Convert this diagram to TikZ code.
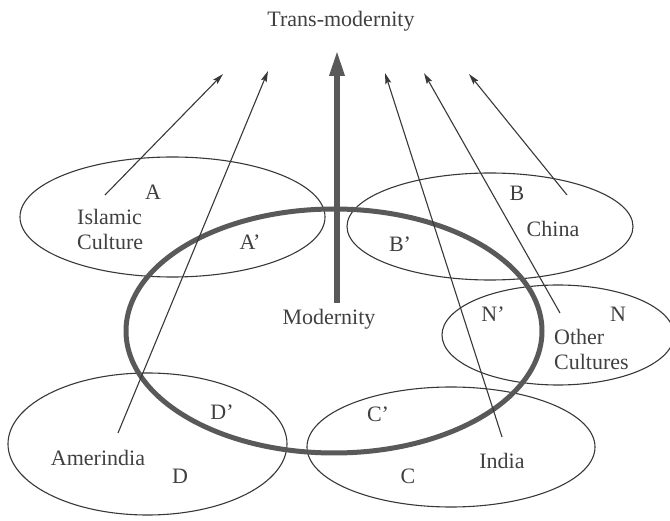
\documentclass[tikz,border=0pt]{standalone}
\usepackage{fontspec}
\setmainfont{Liberation Serif}
\usetikzlibrary{arrows.meta}
\definecolor{ink}{HTML}{383838}
\definecolor{thick}{HTML}{595959}
\definecolor{txt}{HTML}{404040}
\tikzset{
  culture/.style={draw=ink, line width=1.1pt},
  modern/.style={draw=thick, line width=5pt},
  thinarrow/.style={draw=ink, line width=1.1pt, -{Stealth[length=11pt,width=6pt,inset=2pt]}},
  bigarrow/.style={draw=thick, line width=6pt, -{Triangle[length=26pt,width=14pt]}},
  lbl/.style={text=txt, font=\fontsize{22}{25.5}\selectfont, anchor=base, inner sep=0pt},
  lbll/.style={lbl, anchor=base west, align=left},
}
\begin{document}
\begin{tikzpicture}[x=1pt,y=-1pt]
\useasboundingbox (0,0) rectangle (670,521);
% culture ellipses
\draw[culture] (172.5,217) ellipse [x radius=152.5, y radius=60];
\draw[culture] (490,226.5) ellipse [x radius=143, y radius=53.5];
\draw[culture] (558,335) ellipse [x radius=116, y radius=50];
\draw[culture] (147.5,444) ellipse [x radius=139.5, y radius=71];
\draw[culture] (451,447) ellipse [x radius=144, y radius=60];
% modernity ellipse
\draw[modern] (334,331) ellipse [x radius=208, y radius=122];
% coordinates
\coordinate (isl) at (105,195);
\coordinate (islT) at (223,74);
\coordinate (ame) at (118,433);
\coordinate (ameT) at (268,71);
\coordinate (ind) at (502,437);
\coordinate (indT) at (385,73);
\coordinate (oth) at (560,313);
\coordinate (othT) at (424,73);
\coordinate (chi) at (567,195);
\coordinate (chiT) at (469,74);
\coordinate (mod) at (337,303);
% labels (multi-line nodes are placed by the baseline of their last line)
\node[lbl] (trans) at (341,27) {Trans-modernity};
\node[lbl] (modn) at (329,325) {Modernity};
\node[lbl] (a) at (153,200) {A};
\node[lbll] (islam) at (77,250) {Islamic\\Culture};
\node[lbl] (ap) at (250,250) {A’};
\node[lbl] (b) at (517,201) {B};
\node[lbl] (china) at (553,237) {China};
\node[lbl] (bp) at (400,252) {B’};
\node[lbl] (np) at (493,322) {N’};
\node[lbl] (n) at (618,322) {N};
\node[lbll] (other) at (554,370) {Other\\Cultures};
\node[lbl] (dp) at (222,420) {D’};
\node[lbl] (amer) at (98,465) {Amerindia};
\node[lbl] (d) at (180,483) {D};
\node[lbl] (cp) at (378,422) {C’};
\node[lbl] (india) at (502,468) {India};
\node[lbl] (c) at (408,483) {C};
% arrows
\draw[bigarrow] (mod) -- (337,50) coordinate (modT);
\draw[thinarrow] (isl) -- (islT);
\draw[thinarrow] (ame) -- (ameT);
\draw[thinarrow] (ind) -- (indT);
\draw[thinarrow] (oth) -- (othT);
\draw[thinarrow] (chi) -- (chiT);
\end{tikzpicture}
\end{document}
